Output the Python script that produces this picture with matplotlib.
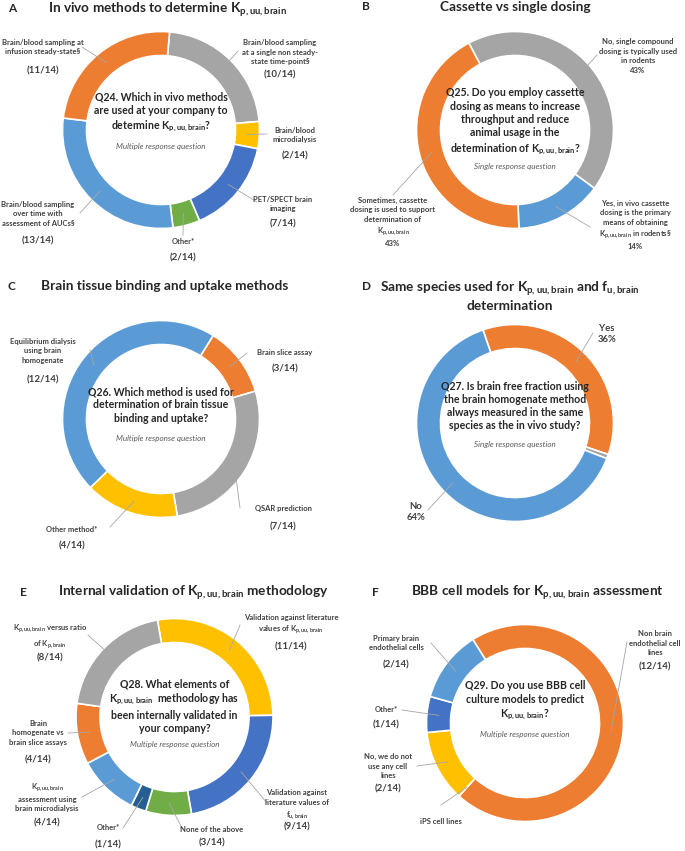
import matplotlib.pyplot as plt
import numpy as np

plt.rcParams['font.family'] = ['Lato', 'DejaVu Sans']

W, H = 685, 851
R, RING = 98.5, 24

ORANGE = '#ED7D31'
GRAY = '#A5A5A5'
YELLOW = '#FFC000'
BLUE = '#4472C4'
GREEN = '#70AD47'
LBLUE = '#5B9BD5'
NAVY = '#255E91'

KP = r'K$_\mathregular{p,uu,brain}$'
FU = r'f$_\mathregular{u,brain}$'

# ---- data ----
a_labels = ['Brain/blood sampling\nat a single non steady-\nstate time-point§',
            'Brain/blood\nmicrodialysis', 'PET/SPECT brain\nimaging', 'Other*',
            'Brain/blood sampling\nover time with\nassessment of AUCs§',
            'Brain/blood sampling at\ninfusion steady-state§']
a_counts = [10, 2, 7, 2, 13, 11]
a_colors = [GRAY, YELLOW, BLUE, GREEN, LBLUE, ORANGE]

b_labels = ['No, single compound\ndosing is typically used\nin rodents',
            'Yes, in vivo cassette\ndosing is the primary\nmeans of obtaining\nKp,uu,brain in rodents§',
            'Sometimes, cassette\ndosing is used to support\ndetermination of\nKp,uu,brain']
b_counts = [6, 2, 6]
b_colors = [GRAY, LBLUE, ORANGE]

c_labels = ['Brain slice assay', 'QSAR prediction', 'Other method*',
            'Equilibrium dialysis\nusing brain\nhomogenate']
c_counts = [3, 7, 4, 12]
c_colors = [ORANGE, GRAY, YELLOW, LBLUE]

d_labels = ['Yes', '', 'No']
d_counts = [5, 0.1, 9]
d_colors = [ORANGE, GRAY, LBLUE]

e_labels = ['Validation against literature\nvalues of Kp,uu,brain',
            'Validation against\nliterature values of\nfu,brain',
            'None of the above', 'Other*',
            'Kp,uu,brain\nassessment using\nbrain microdialysis',
            'Brain\nhomogenate vs\nbrain slice assays',
            'Kp,uu,brain versus ratio\nof Kp,brain']
e_counts = [11, 9, 3, 1, 4, 4, 8]
e_colors = [YELLOW, BLUE, GREEN, NAVY, LBLUE, ORANGE, GRAY]

f_labels = ['Non brain\nendothelial cell\nlines', 'iPS cell lines',
            'No, we do not\nuse any cell\nlines', 'Other*',
            'Primary brain\nendothelial cells']
f_counts = [12, 0, 2, 1, 2]
f_colors = [ORANGE, ORANGE, YELLOW, BLUE, LBLUE]
f_show_count = [True, False, True, True, True]

N = 14

# ---- layout: (label x, label y, count y, leader end x, leader end y) in pixels from top-left ----
a_pos = [(280, 52, 75, 238, 51), (295, 135, 156, 267, 134), (283, 204, 224, 257, 202),
         (183, 241, 258, 183, 235), (38, 214, 241, 80, 213), (43, 47, 71, 82, 47)]
b_pos = [(638, 56, None, 597, 55), (635, 225, None, 590, 227), (393, 222, None, 393, 195)]
c_pos = [(285, 353, 369, 247, 353), (283, 509, 527, 240, 508), (72, 529, 546, 110, 527),
         (43, 351, 380, 90, 350)]
d_pos = [(607, 334, None, 593, 333), None, (416, 512, None, 428, 510)]
e_pos = [(291, 625, 647, 240, 625), (297, 805, 827, 267, 803), (212, 829, 843, 182, 828),
         (108, 828, 845, 123, 828), (47, 797, 823, 82, 797), (38, 733, 760, 68, 733),
         (50, 637, 658, 88, 635)]
f_pos = [(655, 643, 667, 627, 642), (441, 822, None, 441, 805), (388, 766, 789, 417, 766),
         (386, 710, 725, 402, 710), (396, 643, 665, 431, 643)]

fig = plt.figure(figsize=(W / 100, H / 100), dpi=100)
ax = fig.add_axes([0, 0, 1, 1])


def sub(text):
    return text.replace('Kp,uu,brain', KP).replace('Kp,brain', r'K$_\mathregular{p,brain}$') \
        .replace('fu,brain', FU)


def donut(cx, cy, counts, colors, start_cw):
    cy = H - cy
    ax.pie(counts, colors=colors, center=(cx, cy), radius=R, startangle=90 - start_cw,
           counterclock=False, frame=True,
           wedgeprops=dict(width=RING, edgecolor='white', linewidth=1.2))
    total = float(np.sum(counts))
    edges = start_cw + 360 * np.concatenate([[0], np.cumsum(counts)]) / total
    return (edges[:-1] + edges[1:]) / 2


def labels(cx, cy, counts, names, pos, mids, pct=False, show=None, size=5.5):
    rm = R - RING / 2
    for i, (name, p) in enumerate(zip(names, pos)):
        if p is None:
            continue
        lx, ly, cly, ex, ey = p
        a = np.radians(mids[i])
        sx, sy = cx + rm * np.sin(a), cy - rm * np.cos(a)
        ax.plot([sx, ex], [H - sy, H - ey], color='#A6A6A6', lw=0.6)
        txt = sub(name)
        if pct:
            txt = txt + '\n' + f'{round(100 * counts[i] / N)}%'
        ax.text(lx, H - ly, txt, ha='center', va='center', fontsize=size,
                fontweight='bold', color='#404040', linespacing=1.4)
        if cly is not None and (show is None or show[i]):
            ax.text(lx, H - cly, f'({counts[i]}/{N})', ha='center', va='center',
                    fontsize=7, fontweight='bold', color='#404040')


def center_text(cx, cy, q, note, lines_y, note_y):
    ax.text(cx, H - lines_y, q, ha='center', va='center', fontsize=7.6,
            fontweight='bold', color='#262626', linespacing=1.25)
    ax.text(cx, H - note_y, note, ha='center', va='center', fontsize=5.8,
            style='italic', color='#595959')


def title(x, y, letter_x, text, letter, letter_y=None):
    ax.text(letter_x, H - (letter_y if letter_y else y), letter, ha='left', va='center',
            fontsize=8.5, fontweight='bold', color='#262626')
    ax.text(x, H - y, text, ha='center', va='center', fontsize=9.8,
            fontweight='bold', color='#262626', linespacing=1.2)


# A
m = donut(161, 130, a_counts, a_colors, 5)
labels(161, 130, a_counts, a_labels, a_pos, m)
center_text(161, 130, 'Q24. Which in vivo methods\nare used at your company to\ndetermine ' + KP + '?',
            'Multiple response question', 113, 147)
title(168, 9, 8, 'In vivo methods to determine ' + KP, 'A')

# B
m = donut(515, 130, b_counts, b_colors, -28)
labels(515, 130, b_counts, b_labels, b_pos, m, pct=True)
center_text(515, 130, 'Q25. Do you employ cassette\ndosing as means to increase\nthroughput and reduce\n'
            'animal usage in the\ndetermination of ' + KP + '?',
            'Single response question', 122, 167)
title(515, 7, 362, 'Cassette vs single dosing', 'B')

# C
m = donut(161, 419, c_counts, c_colors, 32)
labels(161, 419, c_counts, c_labels, c_pos, m)
center_text(161, 419, 'Q26. Which method is used for\ndetermination of brain tissue\nbinding and uptake?',
            'Multiple response question', 405, 439)
title(165, 286, 8, 'Brain tissue binding and uptake methods', 'C')

# D
m = donut(515, 423, d_counts, d_colors, -19)
labels(515, 423, d_counts, d_labels, d_pos, m, pct=True, size=6.8)
center_text(515, 423, 'Q27. Is brain free fraction using\nthe brain homogenate method\n'
            'always measured in the same\nspecies as the in vivo study?',
            'Single response question', 406, 445)
title(510, 295, 362, 'Same species used for ' + KP + ' and ' + FU + '\ndetermination', 'D', 287)

# E
m = donut(174.5, 717, e_counts, e_colors, -10)
labels(174.5, 717, e_counts, e_labels, e_pos, m)
center_text(174.5, 717, 'Q28. What elements of\n' + KP + '  methodology has\nbeen internally validated in\nyour company?',
            'Multiple response question', 706, 745)
title(194, 593, 20, 'Internal validation of ' + KP + ' methodology', 'E')

# F
m = donut(525, 723, f_counts, f_colors, -32)
labels(525, 723, f_counts, f_labels, f_pos, m, show=f_show_count)
center_text(525, 723, 'Q29. Do you use BBB cell\nculture models to predict\n' + KP + '?',
            'Multiple response question', 701, 734)
title(537, 593, 372, 'BBB cell models for ' + KP + ' assessment', 'F')

ax.set_xlim(0, W)
ax.set_ylim(0, H)
ax.set_aspect('equal')
ax.axis('off')
fig.savefig('out.png', dpi=100, facecolor='white')
